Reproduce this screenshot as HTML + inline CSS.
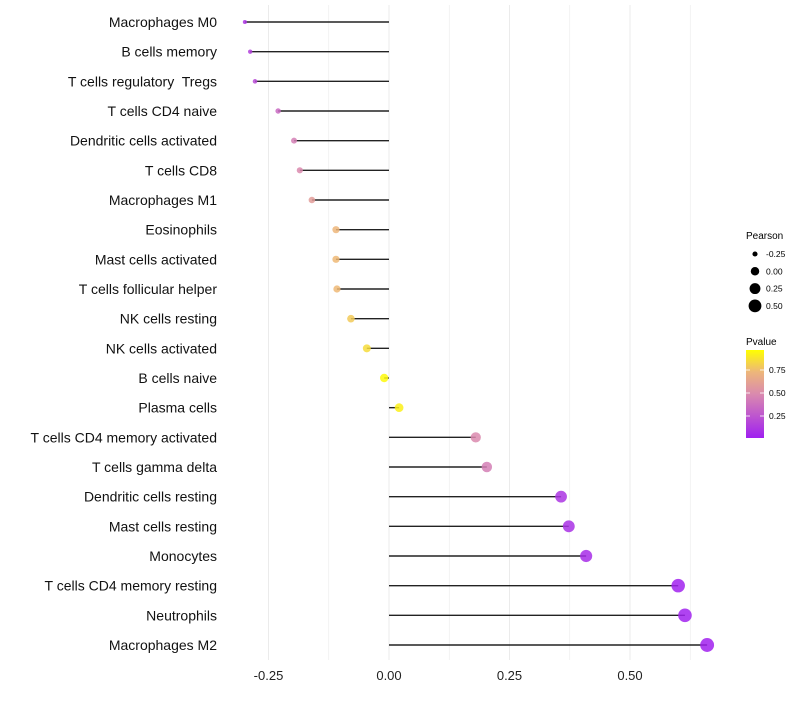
<!DOCTYPE html>
<html><head><meta charset="utf-8"><style>
body{margin:0;background:#fff;font-family:"Liberation Sans",sans-serif;}
text{white-space:pre;}
</style></head><body>
<svg id="chart" width="800" height="700" xmlns="http://www.w3.org/2000/svg" font-family="Liberation Sans, sans-serif">
<defs><linearGradient id="pg" x1="0" y1="1" x2="0" y2="0">
<stop offset="0" stop-color="#A020F0"/><stop offset="0.5" stop-color="#DA8AAE"/><stop offset="0.75" stop-color="#EDB67A"/><stop offset="1" stop-color="#FFFF00"/></linearGradient></defs>
<g id="grid"></g><g id="marks"></g><g id="ylabels"></g><g id="xlabels"></g>
<g>
<text x="746" y="239" font-size="10" fill="#000">Pearson</text>
<g id="sizeleg"></g>
</g>
<g>
<text x="746" y="345" font-size="10" fill="#000">Pvalue</text>
<rect x="746" y="350" width="18" height="88" fill="url(#pg)"/>
<g id="colleg"></g>
</g>
</svg>
<script>
const categories=["Macrophages M0","B cells memory","T cells regulatory  Tregs","T cells CD4 naive","Dendritic cells activated","T cells CD8","Macrophages M1","Eosinophils","Mast cells activated","T cells follicular helper","NK cells resting","NK cells activated","B cells naive","Plasma cells","T cells CD4 memory activated","T cells gamma delta","Dendritic cells resting","Mast cells resting","Monocytes","T cells CD4 memory resting","Neutrophils","Macrophages M2"];
const pearson=[-0.299,-0.288,-0.278,-0.230,-0.197,-0.185,-0.160,-0.110,-0.110,-0.108,-0.079,-0.046,-0.010,0.021,0.180,0.203,0.357,0.373,0.409,0.600,0.614,0.660];
const pvalue=[0.10,0.15,0.20,0.35,0.45,0.50,0.60,0.75,0.76,0.76,0.82,0.88,0.98,0.95,0.50,0.45,0.10,0.08,0.06,0.01,0.01,0.005];
const xTicks=[-0.25,0,0.25,0.5];
const xTickLabels=["-0.25","0.00","0.25","0.50"];
const sizeLegend=[-0.25,0,0.25,0.5];
const sizeLegendLabels=["-0.25","0.00","0.25","0.50"];
const colorTicks=[0.25,0.5,0.75];
const colorTickLabels=["0.25","0.50","0.75"];
const NS="http://www.w3.org/2000/svg";
const x=v=>389+v*482;
const y=i=>22+i*(623/(categories.length-1));
const r=v=>Math.sqrt(Math.max(4,18+46*v));
function col(p){const st=[[0,[160,32,240]],[0.5,[218,138,174]],[0.75,[237,182,122]],[1,[255,255,0]]];
for(let k=1;k<st.length;k++){if(p<=st[k][0]){const a=st[k-1],b=st[k];const t=(p-a[0])/(b[0]-a[0]);return 'rgb('+a[1].map((c,j)=>Math.round(c+(b[1][j]-c)*t)).join(',')+')';}}return 'rgb(255,255,0)';}
function mk(tag,at,parent){const e=document.createElementNS(NS,tag);for(const k in at)e.setAttribute(k,at[k]);parent.appendChild(e);return e;}
const grid=document.getElementById('grid');
for(let v=-0.375;v<=0.63;v+=0.125){const gx=x(v);if(gx<232||gx>722)continue;
const l=mk('line',{x1:gx,x2:gx,y1:5,y2:660,stroke:'#ebebeb','stroke-width':Math.abs((v*4)%1)<1e-6?1:0.6},grid);

}
const marks=document.getElementById('marks'),yl=document.getElementById('ylabels');
categories.forEach((c,i)=>{
const s=mk('line',{x1:x(0),x2:x(pearson[i]),y1:y(i),y2:y(i),stroke:'#222','stroke-width':1.4},marks);


const p=mk('circle',{cx:x(pearson[i]),cy:y(i),r:r(pearson[i]),fill:col(pvalue[i]),'fill-opacity':0.85},marks);


const t=mk('text',{x:217,y:y(i)+5,'text-anchor':'end','font-size':14,fill:'#111'},yl);t.textContent=c;


});
const xl=document.getElementById('xlabels');
xTicks.forEach((v,i)=>{const t=mk('text',{x:x(v),y:680,'text-anchor':'middle','font-size':13,fill:'#222'},xl);t.textContent=xTickLabels[i];

});
const sl=document.getElementById('sizeleg');
sizeLegend.forEach((v,i)=>{const cy=254+i*17.3;
const c=mk('circle',{cx:755,cy:cy,r:r(v),fill:'#000'},sl);


const t=mk('text',{x:766,y:cy+3,'font-size':8.5,fill:'#000'},sl);t.textContent=sizeLegendLabels[i];

});
const cl=document.getElementById('colleg');
colorTicks.forEach((v,i)=>{const cy=439-v*92;
mk('line',{x1:746,x2:750,y1:cy,y2:cy,stroke:'#fff','stroke-width':0.8},cl);
mk('line',{x1:760,x2:764,y1:cy,y2:cy,stroke:'#fff','stroke-width':0.8},cl);
const t=mk('text',{x:769,y:cy+3,'font-size':8.5,fill:'#000'},cl);t.textContent=colorTickLabels[i];

});
</script>
</body></html>
